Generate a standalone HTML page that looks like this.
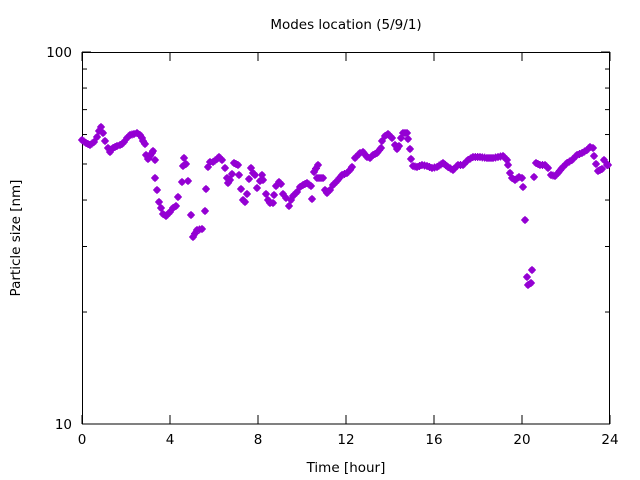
<!DOCTYPE html>
<html><head><meta charset="utf-8"><style>
body{margin:0;background:#fff}
svg{display:block;font-family:"DejaVu Sans","Liberation Sans",sans-serif}
</style></head><body>
<svg id="s" width="640" height="480" xmlns="http://www.w3.org/2000/svg">
<rect width="640" height="480" fill="#fff"/>
<text x="346" y="29" font-size="13.5" text-anchor="middle">Modes location (5/9/1)</text>
<text x="346" y="472" font-size="13.5" text-anchor="middle">Time [hour]</text>
<text transform="translate(20,238) rotate(-90)" font-size="13.5" text-anchor="middle">Particle size [nm]</text>
<g font-size="13.5" text-anchor="end">
<text x="72" y="57">100</text><text x="72" y="429">10</text>
</g>
<g font-size="13.5" text-anchor="middle">
<text x="82" y="444">0</text><text x="170" y="444">4</text><text x="258" y="444">8</text><text x="346" y="444">12</text><text x="434" y="444">16</text><text x="522" y="444">20</text><text x="610" y="444">24</text>
</g>
<g id="ax" stroke="#000" stroke-width="1" fill="none"></g>
<g id="pts" fill="#9400d3" stroke="#9400d3" stroke-width="1.2"></g>
</svg>
<script>
var ax=document.getElementById('ax'),ns='http://www.w3.org/2000/svg';
function L(x1,y1,x2,y2){var l=document.createElementNS(ns,'line');l.setAttribute('x1',x1);l.setAttribute('y1',y1);l.setAttribute('x2',x2);l.setAttribute('y2',y2);ax.appendChild(l);}
for(var i=0;i<=6;i++){var x=82+i*88;L(x,424,x,415);L(x,52,x,61);}
for(var v=10;v<=100;v+=10){var y=424-372*Math.log10(v/10);var n=(v==10||v==100)?9:5;L(82,y,82+n,y);L(610,y,610-n,y);}
var r=document.createElementNS(ns,'rect');r.setAttribute('x',82.5);r.setAttribute('y',52.5);r.setAttribute('width',527);r.setAttribute('height',371.5);ax.appendChild(r);
var P=[[82,140],[86,143],[90,145],[94,142],[97,137],[99,131],[101,127],[103,133],[105,141],[108,148],[110,152],[113,148],[117,146],[120,145],[122,144],[124,142],[127,138],[130,135],[134,134],[137,133],[140,135],[142,138],[143,141],[145,144],[146,155],[148,159],[150,156],[152,153],[153,151],[155,160],[155,178],[157,190],[159,202],[161,208],[163,214],[166,216],[170,212],[173,208],[176,206],[178,197],[182,182],[183,166],[184,158],[186,164],[188,181],[191,215],[193,237],[197,230],[202,229],[205,211],[206,189],[208,167],[210,162],[213,162],[217,159],[219,157],[222,160],[225,168],[227,178],[228,183],[230,180],[232,174],[234,163],[238,165],[239,175],[241,189],[243,200],[245,202],[247,194],[249,179],[251,168],[253,173],[255,175],[257,188],[260,181],[262,175],[263,180],[266,194],[268,200],[270,203],[273,203],[274,195],[276,186],[279,182],[281,184],[283,194],[286,198],[289,206],[291,200],[293,196],[297,192],[300,187],[303,185],[307,183],[311,186],[312,199],[314,172],[318,165],[317,178],[323,178],[325,190],[327,193],[330,190],[333,185],[337,181],[342,175],[347,173],[350,170],[352,167],[355,158],[360,153],[363,152],[367,157],[370,158],[373,155],[377,153],[381,148],[382,141],[385,136],[388,134],[392,138],[395,145],[397,149],[399,146],[401,138],[403,133],[407,133],[408,139],[410,149],[411,159],[413,166],[417,167],[422,165],[427,166],[432,168],[437,167],[443,163],[448,167],[453,170],[458,165],[463,165],[468,160],[473,157],[480,157],[487,158],[493,158],[498,157],[503,156],[507,160],[508,165],[510,173],[512,178],[515,180],[519,177],[522,178],[523,187],[525,220],[527,277],[528,285],[531,283],[532,270],[534,177],[536,163],[540,165],[545,165],[548,168],[551,175],[555,176],[558,173],[562,168],[567,163],[572,160],[577,155],[582,153],[587,150],[590,147],[593,148],[594,156],[596,164],[598,171],[602,169],[604,160],[607,165],[608,165]];
var g=document.getElementById('pts');
function dot(x,y){var c=document.createElementNS(ns,'circle');c.setAttribute('cx',x);c.setAttribute('cy',y);c.setAttribute('r',2.6);g.appendChild(c);
var p=document.createElementNS(ns,'path');p.setAttribute('d','M'+(x-4)+','+y+'h8M'+x+','+(y-4)+'v8');g.appendChild(p);}
for(var i=0;i<P.length;i++){dot(P[i][0],P[i][1]);if(i+1<P.length){var dx=P[i+1][0]-P[i][0],dy=P[i+1][1]-P[i][1],d=Math.hypot(dx,dy);if(d<14&&dx>0){var n=Math.floor(dx/1.9);for(var k=1;k<n;k++)dot(P[i][0]+dx*k/n,P[i][1]+dy*k/n);}}}
</script>
</body></html>
